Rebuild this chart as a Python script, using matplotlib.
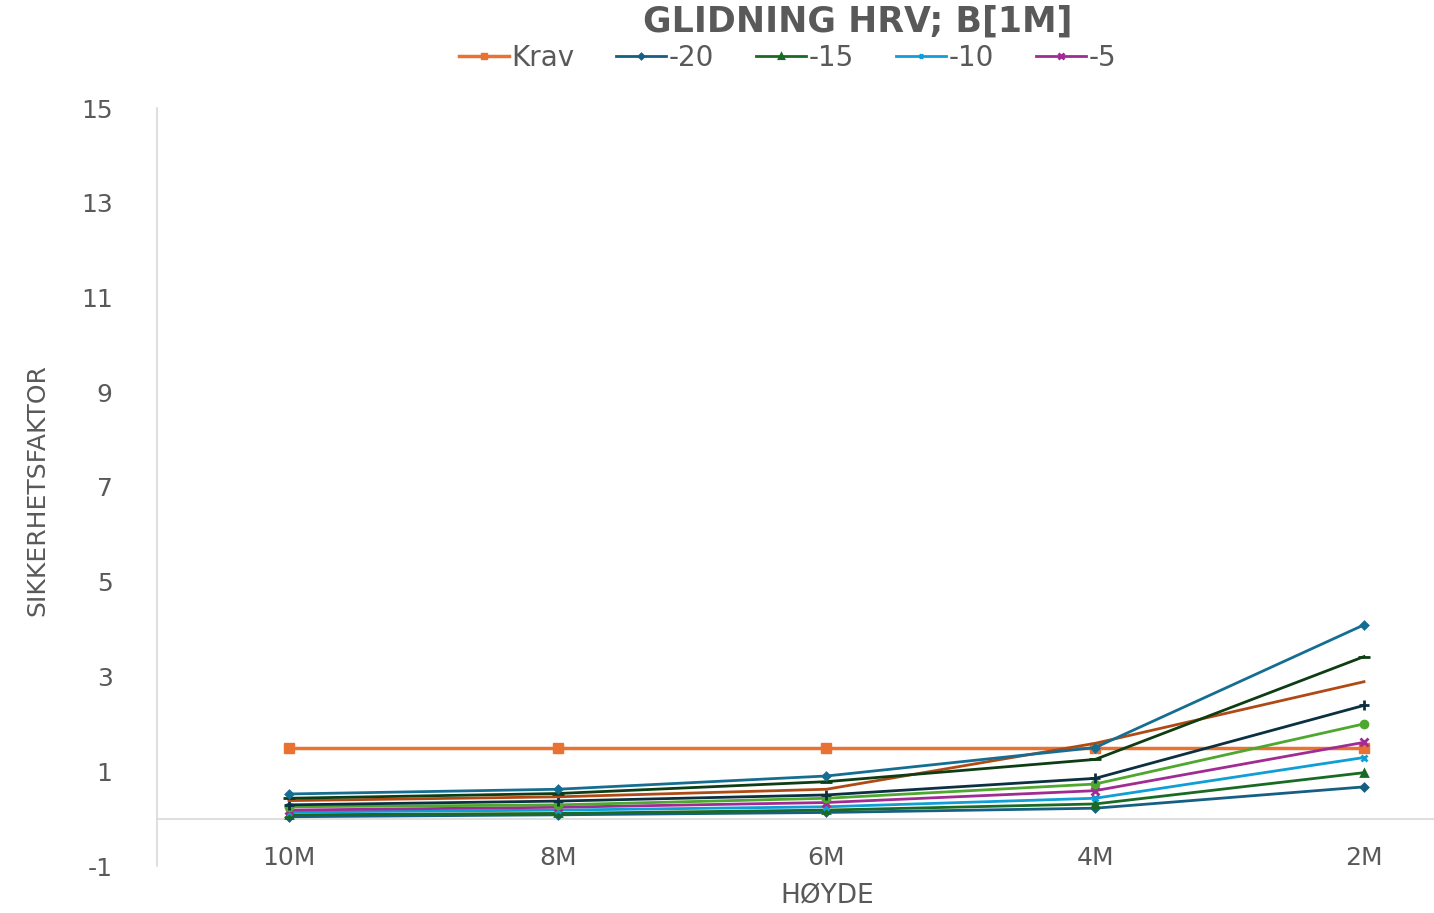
import matplotlib
matplotlib.use("Agg")
import matplotlib.pyplot as plt

plt.rcParams["axes.unicode_minus"] = False

categories = ["10M", "8M", "6M", "4M", "2M"]
krav = [1.5, 1.5, 1.5, 1.5, 1.5]

series_names = ["-20", "-15", "-10", "-5", "0", "5", "10", "15", "20"]
s_m20 = [0.04, 0.08, 0.13, 0.22, 0.67]
s_m15 = [0.08, 0.11, 0.18, 0.31, 0.97]
s_m10 = [0.14, 0.18, 0.25, 0.43, 1.29]
s_m5 = [0.18, 0.24, 0.34, 0.59, 1.61]
s_0 = [0.25, 0.29, 0.43, 0.73, 2.00]
s_5 = [0.29, 0.37, 0.50, 0.85, 2.39]
s_10 = [0.38, 0.46, 0.62, 1.59, 2.89]
s_15 = [0.43, 0.53, 0.78, 1.25, 3.42]
s_20 = [0.52, 0.62, 0.90, 1.50, 4.09]
series_values = [s_m20, s_m15, s_m10, s_m5, s_0, s_5, s_10, s_15, s_20]

colors = ["#156082", "#196B24", "#0F9ED5", "#A02B93", "#4EA72E",
          "#0B3041", "#B04A14", "#0E3D14", "#156E92"]
markers = ["D", "^", "x", "x", "o", "+", "None", "_", "D"]
msizes = [3.5, 4.5, 5, 6, 5, 7, 0, 9, 3.5]

W, H = 1434, 913
fig = plt.figure(figsize=(W / 100, H / 100), dpi=100)
left_px, right_px, top_px, bot_px = 157, 1434, 108, 866
ax = fig.add_axes([left_px / W, 1 - bot_px / H, (right_px - left_px) / W, (bot_px - top_px) / H])

x = list(range(len(categories)))
handles = []
h, = ax.plot(x, krav, color="#E97132", lw=2.5, marker="s", ms=7, label="Krav", zorder=3)
handles.append(h)
for name, vals, c, m, s in zip(series_names, series_values, colors, markers, msizes):
    h, = ax.plot(x, vals, color=c, lw=2, marker=m, ms=s, mew=2, label=name, zorder=4)
    handles.append(h)

ax.set_xlim(-0.491, (right_px - 289) / 268.75)
ax.set_ylim(-1, 15)
ax.set_yticks(range(-1, 16, 2))
ax.set_xticks(x)
ax.set_xticklabels(categories)

ax.spines["bottom"].set_position(("data", 0))
ax.spines["bottom"].set_color("#D9D9D9")
ax.spines["bottom"].set_linewidth(1.2)
for sp in ["top", "right"]:
    ax.spines[sp].set_visible(False)
ax.spines["left"].set_color("#D9D9D9")
ax.spines["left"].set_linewidth(1.2)
ax.tick_params(axis="both", length=0, colors="#595959", labelsize=18)
ax.tick_params(axis="y", pad=32)
ax.tick_params(axis="x", pad=20)

ax.set_xlabel("HØYDE", fontsize=19, color="#595959")
ax.xaxis.set_label_coords((827 - left_px) / (right_px - left_px), -(883 - bot_px) / (bot_px - top_px))
ax.set_ylabel("SIKKERHETSFAKTOR", fontsize=18, color="#595959")
ax.yaxis.set_label_coords(-(left_px - 49) / (right_px - left_px), 0.496)

fig.text(0.598, 0.976, "GLIDNING HRV; B[1M]", ha="center", va="center",
         fontsize=25, fontweight="bold", color="#595959")
fig.legend(handles=handles[:5], labels=["Krav", "-20", "-15", "-10", "-5"],
           loc="center", bbox_to_anchor=(0.549, 0.937), ncol=5, frameon=False,
           fontsize=20, labelcolor="#595959", handlelength=1.8, handletextpad=0.1,
           columnspacing=1.5, markerscale=0.7, borderpad=0.2)

fig.savefig("out.png", dpi=100)
